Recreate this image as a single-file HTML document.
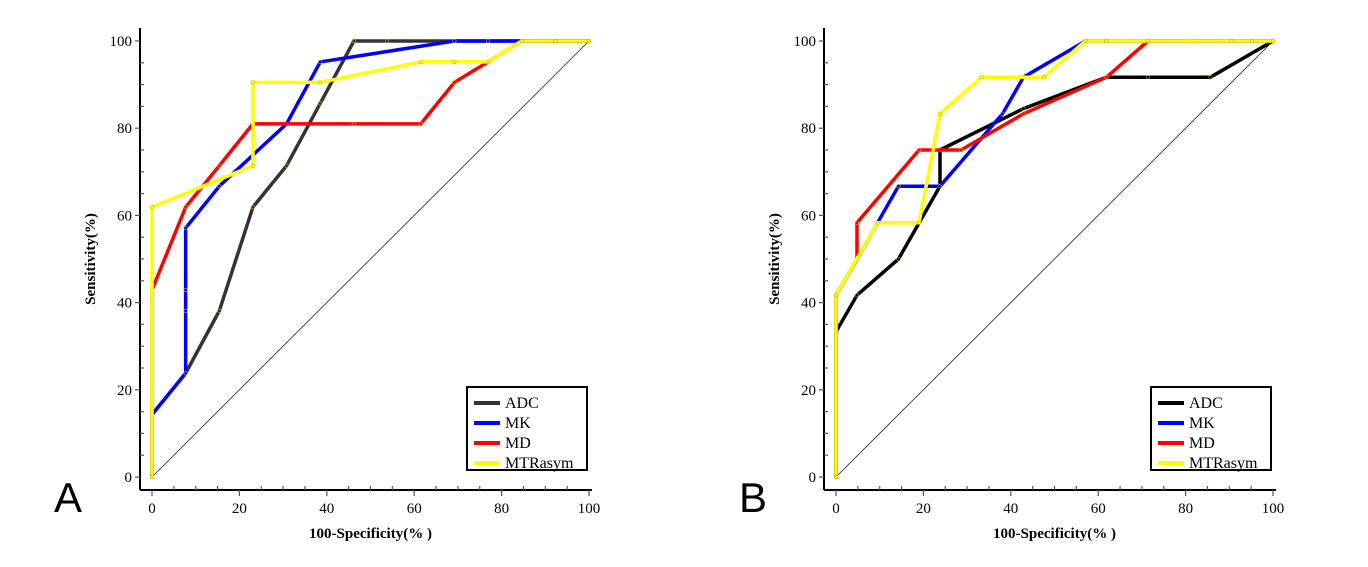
<!DOCTYPE html>
<html><head><meta charset="utf-8"><style>
html,body{margin:0;padding:0;background:#fff;width:1368px;height:567px;overflow:hidden}
svg{display:block}
text{font-family:"Liberation Serif",serif}
</style></head><body>
<svg id="chart" width="1368" height="567"></svg>
<script>
// ---- data ----
const seriesNames = ["ADC","MK","MD","MTRasym"];
const xTicks = [0,20,40,60,80,100];
const yTicks = [0,20,40,60,80,100];
// Panel A
const aAdcX = [0,0,7.7,15.4,23.1,30.8,38.5,46.2,53.8,100];
const aAdcY = [0,14.3,23.8,38.1,61.9,71.4,85.7,100,100,100];
const aMkX = [0,0,7.7,7.7,7.7,7.7,15.4,30.8,38.5,69.2,76.9,84.6,100];
const aMkY = [0,14.3,23.8,38.1,42.9,57.1,66.7,81,95.2,100,100,100,100];
const aMdX = [0,0,7.7,15.4,23.1,46.2,61.5,69.2,76.9,84.6,100];
const aMdY = [0,42.9,61.9,71.4,81,81,81,90.5,95.2,100,100];
const aMtrX = [0,0,23.1,23.1,38.5,61.5,69.2,76.9,84.6,92.3,100];
const aMtrY = [0,61.9,71.4,90.5,90.5,95.2,95.2,95.2,100,100,100];
// Panel B
const bAdcX = [0,0,4.8,14.3,23.8,23.8,42.9,61.9,71.4,85.7,100];
const bAdcY = [0,33.3,41.7,50,66.7,75,84.5,91.7,91.7,91.7,100];
const bMkX = [0,0,4.8,9.5,14.3,23.8,38.1,42.9,57.1,66.7,100];
const bMkY = [0,41.7,50,58.3,66.7,66.7,83.3,91.7,100,100,100];
const bMdX = [0,0,4.8,4.8,19,28.6,42.9,61.9,71.4,80.9,100];
const bMdY = [0,41.7,50,58.3,75,75,83.3,91.7,100,100,100];
const bMtrX = [0,0,9.5,19,23.8,33.3,47.6,57.1,61.9,71.4,90.5,95.2,100];
const bMtrY = [0,41.7,58.3,58.3,83.3,91.7,91.7,100,100,100,100,100,100];

const NS="http://www.w3.org/2000/svg";
const svg=document.getElementById('chart');
function mk(tag,attrs,parent){const e=document.createElementNS(NS,tag);for(const k in attrs)e.setAttribute(k,attrs[k]);(parent||svg).appendChild(e);return e;}

function panel(id,x0,x100,letter,letterX,colors,data){
  const y0=477,y100=41;
  const sx=v=>x0+(x100-x0)*v/100;
  const sy=v=>y0+(y100-y0)*v/100;
  const g=mk('g',{});
  
  
  const axL=x0-12, axB=490, axR=x100+3;
  const ya=mk('line',{x1:axL,y1:28,x2:axL,y2:axB,stroke:'#000','stroke-width':2},g);
  
  
  const xa=mk('line',{x1:axL,y1:axB,x2:axR,y2:axB,stroke:'#000','stroke-width':2},g);
  
  
  for(let v=0;v<=100;v+=5){
    const major=v%20===0;
    mk('line',{x1:axL,y1:sy(v),x2:axL+(major?-5:4),y2:sy(v),stroke:'#555','stroke-width':1.2},g);
    mk('line',{x1:sx(v),y1:axB,x2:sx(v),y2:axB+(major?6:-4),stroke:'#555','stroke-width':1.2},g);
  }
  yTicks.forEach(v=>{const t=mk('text',{x:axL-8,y:sy(v)+5,'text-anchor':'end','font-size':15},g);t.textContent=v;
    });
  xTicks.forEach(v=>{const t=mk('text',{x:sx(v),y:513,'text-anchor':'middle','font-size':15},g);t.textContent=v;
    });
  const xt=mk('text',{x:(x0+x100)/2,y:538,'text-anchor':'middle','font-size':15,'font-weight':'bold'},g);
  xt.textContent='100-Specificity(% )';
  
  
  const yt=mk('text',{x:0,y:0,'text-anchor':'middle','font-size':15,'font-weight':'bold',transform:`translate(${axL-45},${sy(50)}) rotate(-90)`},g);
  yt.textContent='Sensitivity(%)';
  
  
  const d=mk('line',{x1:sx(0),y1:sy(0),x2:sx(100),y2:sy(100),stroke:'#222','stroke-width':0.8},g);
  
  
  data.forEach((s,i)=>{
    const pts=s[0].map((x,j)=>sx(x)+','+sy(s[1][j])).join(' ');
    const p=mk('polyline',{points:pts,fill:'none',stroke:colors[i],'stroke-width':3.5,'stroke-linejoin':'round'},g);
    
    
    s[0].forEach((x,j)=>{
      const c=mk('circle',{cx:sx(x),cy:sy(s[1][j]),r:1.8,fill:colors[i],stroke:'#d9a300','stroke-width':0.6},g);
      
      
    });
  });
  const lx=x100-122, ly=387;
  const lg=mk('g',{},g);
  
  
  mk('rect',{x:lx,y:ly,width:120,height:83,fill:'#fff',stroke:'#000','stroke-width':2},lg);
  seriesNames.forEach((n,i)=>{
    const yy=ly+16+i*20;
    mk('line',{x1:lx+7,y1:yy,x2:lx+33,y2:yy,stroke:colors[i],'stroke-width':4},lg);
    const t=mk('text',{x:lx+38,y:yy+5,'font-size':16},lg);
    t.textContent=n;
    
    
  });
  const L=mk('text',{x:letterX,y:512,'font-size':42,'text-anchor':'middle',style:'font-family:"Liberation Sans",sans-serif'},g);
  L.textContent=letter;
  
  
}
panel('a',152,589,'A',68,['#333333','#0000ff','#ff0000','#ffff00'],
  [[aAdcX,aAdcY],[aMkX,aMkY],[aMdX,aMdY],[aMtrX,aMtrY]]);
panel('b',836,1273,'B',753,['#000000','#0000ff','#ff0000','#ffff00'],
  [[bAdcX,bAdcY],[bMkX,bMkY],[bMdX,bMdY],[bMtrX,bMtrY]]);
</script>
</body></html>
